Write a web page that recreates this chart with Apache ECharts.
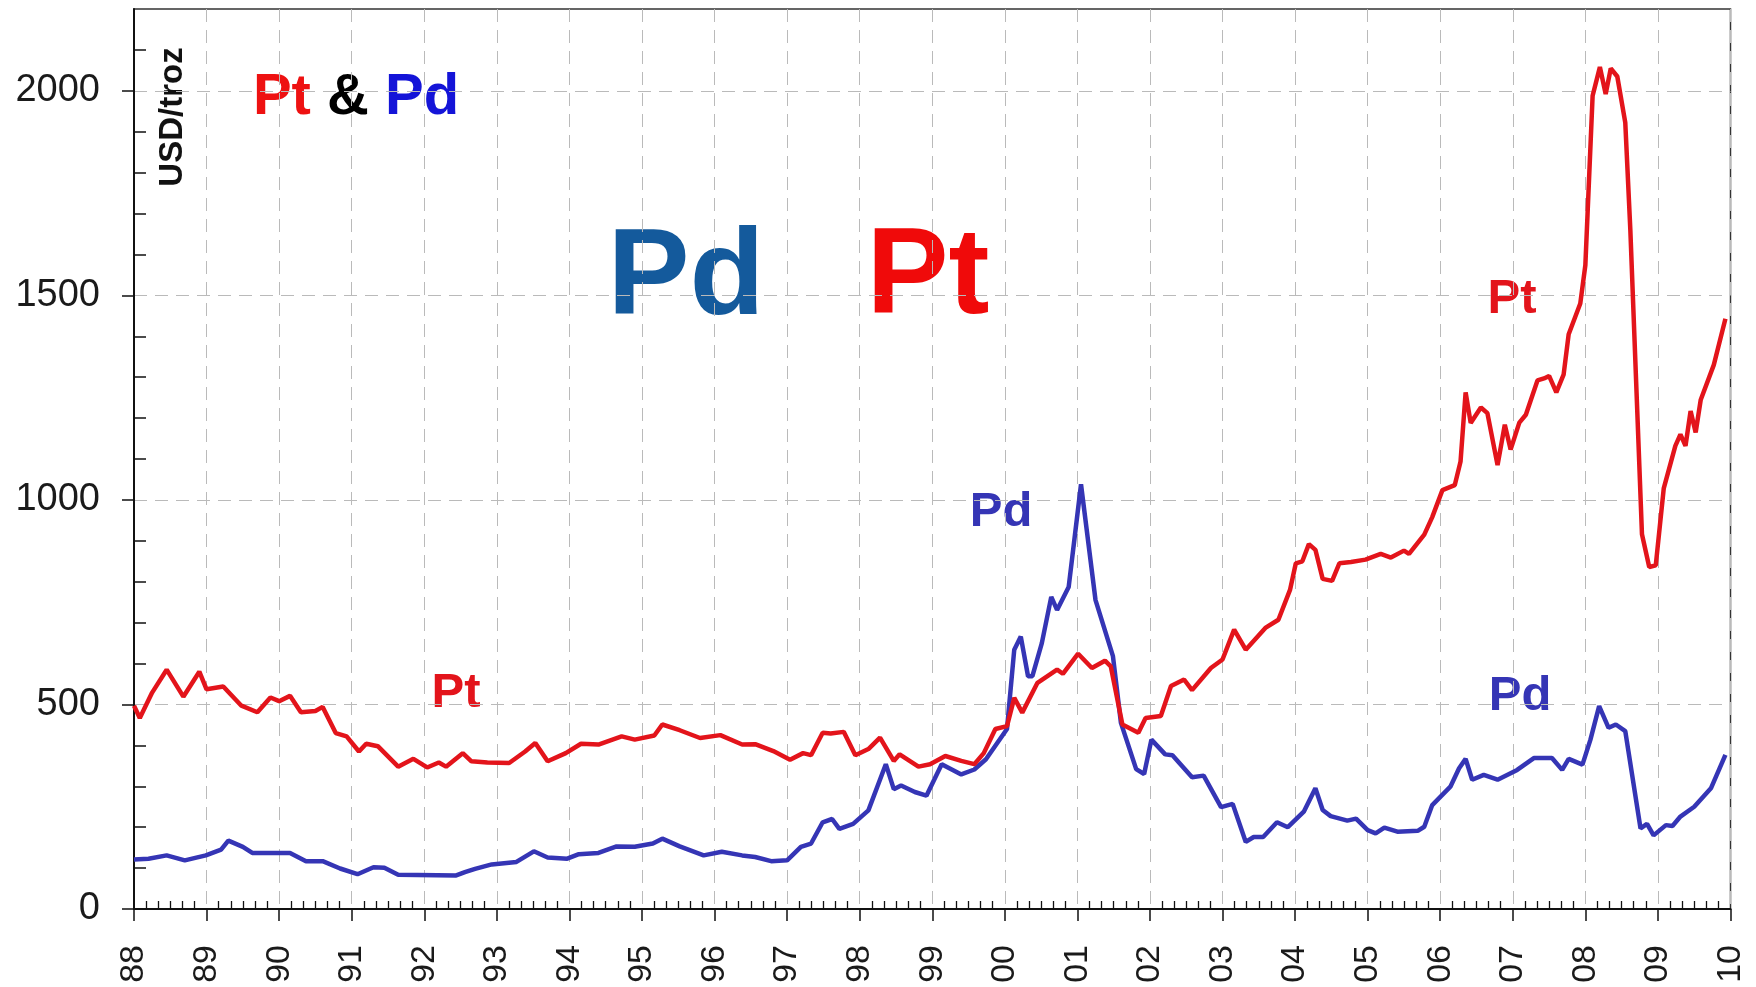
<!DOCTYPE html>
<html>
<head>
<meta charset="utf-8">
<title>Pt &amp; Pd</title>
<script src="https://cdn.jsdelivr.net/npm/echarts@6/dist/echarts.min.js"></script>
<style>
  html, body { margin: 0; padding: 0; background: #fff; }
  #chart { width: 1756px; height: 987px; }
</style>
</head>
<body>
<div id="chart"></div>
<script>
// axis labels as printed on the chart
const yearLabels = ['88', '89', '90', '91', '92', '93', '94', '95', '96', '97', '98',
  '99', '00', '01', '02', '03', '04', '05', '06', '07', '08', '09', '10'];
const priceLabels = [0, 500, 1000, 1500, 2000];
const priceMinorTicks = [100, 200, 300, 400, 600, 700, 800, 900, 1100, 1200, 1300, 1400,
  1600, 1700, 1800, 1900, 2100];

// platinum, USD/troz (decimal years)
const ptYears = [
  1988.00, 1988.08, 1988.25, 1988.45, 1988.68, 1988.90, 1989.00, 1989.23, 1989.48, 1989.70,
  1989.88, 1990.00, 1990.15, 1990.30, 1990.50, 1990.60, 1990.78, 1990.93, 1991.10, 1991.20,
  1991.36, 1991.64, 1991.85, 1992.04, 1992.20, 1992.30, 1992.53, 1992.65, 1992.87, 1993.17,
  1993.39, 1993.53, 1993.70, 1993.95, 1994.16, 1994.40, 1994.72, 1994.90, 1995.17, 1995.28,
  1995.52, 1995.80, 1996.08, 1996.38, 1996.56, 1996.81, 1997.04, 1997.22, 1997.33, 1997.49,
  1997.60, 1997.78, 1997.94, 1998.12, 1998.28, 1998.47, 1998.55, 1998.81, 1998.97, 1999.18,
  1999.40, 1999.58, 1999.71, 1999.87, 2000.03, 2000.13, 2000.24, 2000.45, 2000.72, 2000.80,
  2001.01, 2001.20, 2001.38, 2001.46, 2001.62, 2001.84, 2001.94, 2002.15, 2002.29, 2002.47,
  2002.58, 2002.84, 2003.00, 2003.16, 2003.32, 2003.59, 2003.77, 2003.93, 2004.01, 2004.10,
  2004.19, 2004.28, 2004.38, 2004.51, 2004.61, 2004.77, 2004.97, 2005.18, 2005.32, 2005.50,
  2005.57, 2005.78, 2005.89, 2006.03, 2006.20, 2006.28, 2006.35, 2006.42, 2006.56, 2006.65,
  2006.79, 2006.89, 2006.97, 2007.09, 2007.18, 2007.34, 2007.43, 2007.50, 2007.60, 2007.70,
  2007.77, 2007.93, 2008.00, 2008.10, 2008.20, 2008.28, 2008.35, 2008.44, 2008.55, 2008.62,
  2008.78, 2008.88, 2008.97, 2009.08, 2009.24, 2009.31, 2009.38, 2009.45, 2009.52, 2009.59,
  2009.77, 2009.93
];
const ptPrices = [
  497, 467, 529, 585, 519, 580, 537, 544, 497, 481,
  517, 508, 521, 481, 484, 494, 430, 422, 385, 404,
  398, 348, 367, 346, 358, 348, 381, 361, 358, 357,
  385, 406, 361, 381, 404, 402, 422, 414, 424, 451,
  437, 418, 425, 402, 403, 386, 365, 381, 376, 431,
  429, 433, 376, 391, 419, 362, 378, 348, 354, 374,
  362, 354, 381, 440, 447, 516, 480, 553, 585, 575,
  624, 589, 607, 593, 451, 431, 467, 472, 545, 561,
  535, 589, 610, 683, 634, 687, 707, 780, 845, 850,
  892, 878, 807, 802, 845, 848, 854, 868, 859, 876,
  868, 915, 958, 1024, 1036, 1094, 1263, 1188, 1226, 1212,
  1085, 1184, 1123, 1189, 1208, 1292, 1297, 1303, 1263, 1306,
  1405, 1480, 1574, 1988, 2058, 1992, 2055, 2035, 1922, 1659,
  916, 836, 840, 1028, 1132, 1160, 1132, 1217, 1165, 1245,
  1330, 1443
];

// palladium, USD/troz
const pdYears = [
  1988.00, 1988.20, 1988.45, 1988.70, 1988.99, 1989.20, 1989.30, 1989.50, 1989.63, 1990.15,
  1990.37, 1990.60, 1990.84, 1991.08, 1991.30, 1991.45, 1991.64, 1992.44, 1992.56, 1992.70,
  1992.93, 1993.27, 1993.51, 1993.70, 1993.97, 1994.13, 1994.40, 1994.65, 1994.90, 1995.15,
  1995.28, 1995.52, 1995.85, 1996.10, 1996.38, 1996.56, 1996.78, 1997.00, 1997.19, 1997.33,
  1997.49, 1997.62, 1997.72, 1997.91, 1998.12, 1998.36, 1998.47, 1998.57, 1998.76, 1998.92,
  1999.13, 1999.40, 1999.58, 1999.74, 2000.03, 2000.13, 2000.22, 2000.32, 2000.38, 2000.51,
  2000.64, 2000.72, 2000.88, 2001.05, 2001.25, 2001.49, 2001.60, 2001.81, 2001.92, 2002.02,
  2002.21, 2002.31, 2002.58, 2002.74, 2002.98, 2003.14, 2003.32, 2003.43, 2003.56, 2003.75,
  2003.90, 2004.12, 2004.28, 2004.38, 2004.49, 2004.72, 2004.84, 2005.00, 2005.11, 2005.23,
  2005.41, 2005.69, 2005.78, 2005.89, 2006.14, 2006.26, 2006.35, 2006.44, 2006.60, 2006.79,
  2007.06, 2007.29, 2007.54, 2007.68, 2007.77, 2007.96, 2008.07, 2008.19, 2008.32, 2008.42,
  2008.55, 2008.76, 2008.85, 2008.94, 2009.11, 2009.20, 2009.31, 2009.50, 2009.73, 2009.93
];
const pdPrices = [
  121, 123, 131, 119, 131, 145, 167, 152, 137, 137,
  117, 117, 99, 85, 102, 101, 84, 82, 90, 98,
  109, 115, 141, 126, 123, 134, 137, 153, 152, 160,
  172, 153, 131, 140, 131, 127, 117, 119, 152, 160,
  212, 220, 196, 208, 241, 354, 293, 302, 286, 277,
  354, 329, 341, 366, 440, 634, 666, 569, 569, 650,
  763, 731, 787, 1038, 755, 618, 455, 342, 330, 414,
  378, 376, 322, 326, 249, 257, 164, 176, 176, 212,
  200, 238, 295, 242, 227, 216, 221, 193, 185, 199,
  189, 191, 201, 254, 299, 344, 367, 316, 328, 316,
  340, 369, 369, 340, 367, 353, 414, 496, 443, 451,
  435, 197, 208, 180, 205, 203, 226, 250, 295, 377
];

const FONT = "'Liberation Sans', Arial, sans-serif";
const PT_RED = '#e3141b';
const PD_BLUE = '#3535b5';

const chart = echarts.init(document.getElementById('chart'));

const gridDash = { color: '#bababa', type: [13, 8], width: 1 };
const tickStyle = { color: '#111', width: 1.5 };

const option = {
  animation: false,
  backgroundColor: '#fff',
  grid: {
    left: 134,
    right: 25.5,
    top: 9,
    bottom: 78,
    show: true,
    borderColor: '#333',
    borderWidth: 1.5,
    containLabel: false,
    outerBoundsMode: 'none',
  },
  xAxis: [
    {
      type: 'value',
      position: 'bottom',
      min: 1988,
      max: 2010,
      interval: 1,
      axisLine: { show: true, onZero: false, lineStyle: { color: '#111', width: 2 } },
      axisTick: { show: true, inside: false, length: 12, lineStyle: tickStyle },
      axisLabel: {
        rotate: 90,
        margin: 36,
        fontSize: 34,
        fontFamily: FONT,
        color: '#1a1a1a',
        formatter: (v) => yearLabels[Math.round(v - 1988)] || '',
      },
      splitLine: { show: true, lineStyle: gridDash },
    },
    {
      // minor ticks every two months, pointing inward
      type: 'value',
      position: 'bottom',
      min: 1988,
      max: 2010,
      interval: 1,
      axisLine: { show: false, onZero: false },
      axisTick: { show: false, inside: true },
      minorTick: { show: true, splitNumber: 6, length: 8, lineStyle: { color: '#111', width: 1.3 } },
      axisLabel: { show: false },
      splitLine: { show: false },
    },
  ],
  yAxis: [
    {
      type: 'value',
      position: 'left',
      min: 0,
      max: 2200,
      interval: 500,
      axisLine: { show: true, onZero: false, lineStyle: { color: '#111', width: 2 } },
      axisTick: { show: true, inside: false, length: 12, lineStyle: tickStyle, customValues: priceLabels },
      axisLabel: {
        margin: 34,
        fontSize: 38,
        fontFamily: FONT,
        color: '#1a1a1a',
        showMaxLabel: false,
        formatter: (v) => (priceLabels.includes(v) ? String(v) : ''),
      },
      splitLine: { show: true, lineStyle: gridDash },
    },
    {
      type: 'value',
      position: 'left',
      min: 0,
      max: 2200,
      interval: 100,
      axisLine: { show: false, onZero: false },
      axisTick: { show: true, inside: true, length: 12, lineStyle: tickStyle, customValues: priceMinorTicks },
      axisLabel: { show: false },
      splitLine: { show: false },
    },
  ],
  series: [
    {
      name: 'Pd',
      type: 'line',
      data: pdYears.map((y, i) => [y, pdPrices[i]]),
      showSymbol: false,
      lineStyle: { color: PD_BLUE, width: 4.5 },
      itemStyle: { color: PD_BLUE },
      z: 2,
    },
    {
      name: 'Pt',
      type: 'line',
      data: ptYears.map((y, i) => [y, ptPrices[i]]),
      showSymbol: false,
      lineStyle: { color: PT_RED, width: 4.5 },
      itemStyle: { color: PT_RED },
      z: 3,
    },
  ],
  graphic: [
    {
      type: 'text',
      x: 173,
      y: 117,
      rotation: Math.PI / 2,
      style: { text: 'USD/troz', font: `bold 33px ${FONT}`, fill: '#111', align: 'center', verticalAlign: 'middle' },
    },
    {
      type: 'text',
      x: 356,
      y: 98,
      style: {
        text: '{pt|Pt\u00a0}{amp|&\u00a0}{pd|Pd}',
        align: 'center',
        verticalAlign: 'middle',
        rich: {
          pt: { fontSize: 58, fontWeight: 'bold', fontFamily: FONT, fill: '#ee1111' },
          amp: { fontSize: 58, fontWeight: 'bold', fontFamily: FONT, fill: '#000' },
          pd: { fontSize: 58, fontWeight: 'bold', fontFamily: FONT, fill: '#1414d8' },
        },
      },
    },
    {
      type: 'text',
      x: 686,
      y: 280,
      style: { text: 'Pd', font: `bold 123px ${FONT}`, fill: '#145a9c', align: 'center', verticalAlign: 'middle' },
    },
    {
      type: 'text',
      x: 928,
      y: 279,
      style: { text: 'Pt', font: `bold 123px ${FONT}`, fill: '#f00a0a', align: 'center', verticalAlign: 'middle' },
    },
    {
      type: 'text',
      x: 456,
      y: 693,
      style: { text: 'Pt', font: `bold 49px ${FONT}`, fill: PT_RED, align: 'center', verticalAlign: 'middle' },
    },
    {
      type: 'text',
      x: 1001,
      y: 512,
      style: { text: 'Pd', font: `bold 49px ${FONT}`, fill: PD_BLUE, align: 'center', verticalAlign: 'middle' },
    },
    {
      type: 'text',
      x: 1512,
      y: 299,
      style: { text: 'Pt', font: `bold 49px ${FONT}`, fill: PT_RED, align: 'center', verticalAlign: 'middle' },
    },
    {
      type: 'text',
      x: 1520,
      y: 696,
      style: { text: 'Pd', font: `bold 49px ${FONT}`, fill: PD_BLUE, align: 'center', verticalAlign: 'middle' },
    },
  ],
};

chart.setOption(option);
window.addEventListener('resize', () => chart.resize());
</script>
</body>
</html>
